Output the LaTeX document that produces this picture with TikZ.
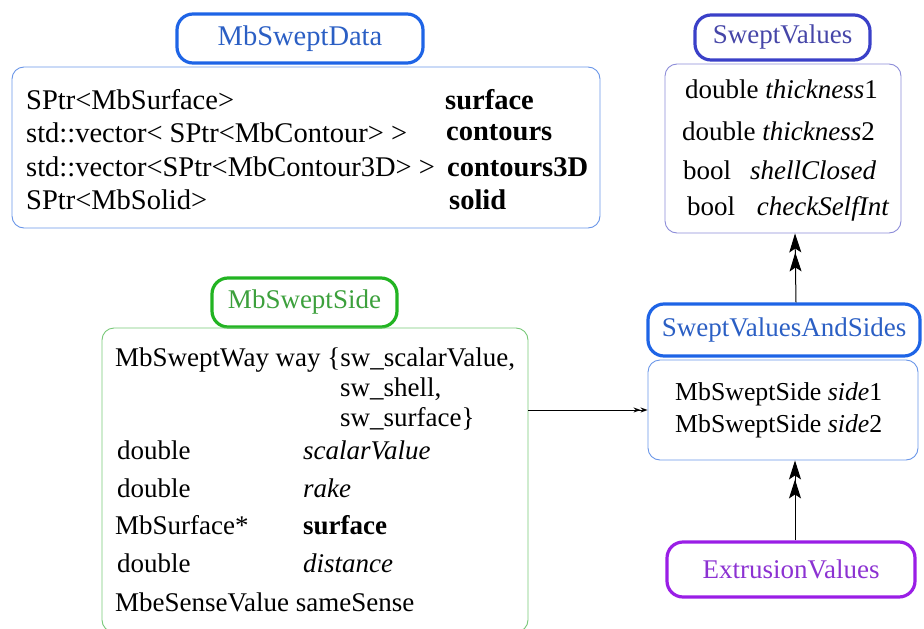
\documentclass[tikz,border=0pt]{standalone}
\usepackage{fontspec}
\setmainfont{Liberation Serif}
\usepackage{tikz}
\usetikzlibrary{arrows.meta,shapes}

\definecolor{datablue}{HTML}{1E64E6}
\definecolor{datatext}{HTML}{2B5FC4}
\definecolor{datathin}{HTML}{6A96E8}
\definecolor{valindigo}{HTML}{3A40C8}
\definecolor{valtext}{HTML}{4646A8}
\definecolor{valthin}{HTML}{8C8CD8}
\definecolor{sidegreen}{HTML}{22B422}
\definecolor{sidetext}{HTML}{3CA03C}
\definecolor{sidethin}{HTML}{78C878}
\definecolor{extpurple}{HTML}{9A1EE6}
\definecolor{exttext}{HTML}{8C32D2}

\begin{document}
\begin{tikzpicture}[x=1pt,y=-1pt,font=\fontsize{27}{32}\selectfont,
        title/.style={rounded corners=16pt,line width=3.2pt,inner sep=0pt},
        body/.style={rounded corners=12pt,line width=0.9pt,inner sep=0pt},
        row/.style={anchor=west,inner sep=0pt},
        bigrow/.style={row,font=\fontsize{28.5}{33}\selectfont},
        siderow/.style={row,font=\fontsize{25.8}{31}\selectfont},
        link/.style={line width=1pt,-{Stealth[length=19pt,width=12pt,inset=4pt]Stealth[length=19pt,width=12pt,inset=4pt]}},
        sidelink/.style={line width=1pt,-{Stealth[length=7pt,width=5pt]Stealth[length=7pt,width=5pt]}}]
        \useasboundingbox (0,0) rectangle (924,629);

        % MbSweptData
        \node[title,draw=datablue,text=datatext,minimum width=246pt,minimum height=49pt,font=\fontsize{28.5}{33}\selectfont] (dataT) at (300,38.5) {MbSweptData};
        \node[body,draw=datathin,minimum width=588pt,minimum height=161pt] (dataB) at (306,147.5) {};
        \node[bigrow] (d1) at (26,100) {SPtr<MbSurface>};
        \node[bigrow] (d2) at (26,133) {std::vector< SPtr<MbContour> >};
        \node[bigrow] (d3) at (26,167) {std::vector<SPtr<MbContour3D> >};
        \node[bigrow] (d4) at (26,200) {SPtr<MbSolid>};
        \node[bigrow] (d1n) at (445,100) {\textbf{surface}};
        \node[bigrow] (d2n) at (446,133) {\textbf{contours}};
        \node[bigrow] (d3n) at (447,167) {\textbf{contours3D}};
        \node[bigrow] (d4n) at (449,200) {\textbf{solid}};

        % SweptValues
        \node[title,draw=valindigo,text=valtext,minimum width=175pt,minimum height=45pt] (valT) at (782.5,37.5) {SweptValues};
        \node[body,draw=valthin,minimum width=236pt,minimum height=169pt] (valB) at (783,148.5) {};
        \node[row] (v1) at (685,89) {double \textit{thickness}1};
        \node[row] (v2) at (682,131) {double \textit{thickness}2};
        \node[row] (v3) at (683,170) {bool\hspace{0.7em}\textit{shellClosed}};
        \node[row] (v4) at (687,209) {bool\hspace{0.8em}\textit{checkSelfInt}};

        % SweptValuesAndSides
        \node[title,draw=datablue,text=datatext,minimum width=272pt,minimum height=52pt] (vsT) at (784,330) {SweptValuesAndSides};
        \node[body,draw=datathin,minimum width=270pt,minimum height=100pt] (vsB) at (783,410) {};
        \node[siderow] (s1) at (675,394) {MbSweptSide \textit{side}1};
        \node[siderow] (s2) at (675,426) {MbSweptSide \textit{side}2};

        % ExtrusionValues
        \node[title,draw=extpurple,text=exttext,minimum width=248pt,minimum height=55pt] (extT) at (791,569.5) {ExtrusionValues};

        % MbSweptSide
        \node[title,draw=sidegreen,text=sidetext,minimum width=185pt,minimum height=49pt] (sideT) at (304.5,302.5) {MbSweptSide};
        \node[body,draw=sidethin,minimum width=426pt,minimum height=304pt] (sideB) at (315,480) {};
        \node[row] (w1) at (115,360) {MbSweptWay way \{sw\_scalarValue,};
        \node[row] (w2) at (340,389) {sw\_shell,};
        \node[row] (w3) at (340,419) {sw\_surface\}};
        \node[row] (a1) at (117,450) {double};
        \node[row] (a2) at (117,488) {double};
        \node[row] (a3) at (115,525) {MbSurface*};
        \node[row] (a4) at (117,563) {double};
        \node[row] (a5) at (115,602) {MbeSenseValue sameSense};
        \node[row] (b1) at (303,450) {\textit{scalarValue}};
        \node[row] (b2) at (303,488) {\textit{rake}};
        \node[row] (b3) at (303,525) {\textbf{surface}};
        \node[row] (b4) at (303,563) {\textit{distance}};

        % connectors
        \draw[link] ([xshift=12pt]vsT.north) -- ([xshift=12pt]valB.south);
        \draw[link] ([xshift=4pt]extT.north) -- ([xshift=12pt]vsB.south);
        \draw[sidelink] (vsB.west -| sideB.east) -- (vsB.west);
      \end{tikzpicture}
\end{document}
